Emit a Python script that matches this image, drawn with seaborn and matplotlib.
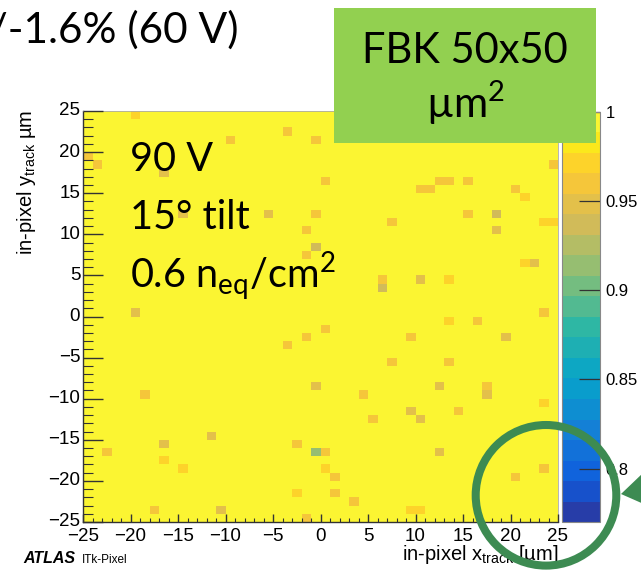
import numpy as np
import pandas as pd
import matplotlib
matplotlib.use("Agg")
import matplotlib.pyplot as plt
import seaborn as sns
from matplotlib.colors import LinearSegmentedColormap, ListedColormap, BoundaryNorm
from matplotlib.patches import Rectangle, Circle, Polygon
from matplotlib.transforms import IdentityTransform

# ---------------------------------------------------------------------------
# In-pixel efficiency map, FBK 50x50 um^2 sensor (1 um bins)
# ---------------------------------------------------------------------------
x_centres = np.arange(-24.5, 25.0, 1.0)
y_centres = np.arange(-24.5, 25.0, 1.0)
base_eff = 1.0

# bins whose efficiency falls below the top contour
dip_x = [-19.5, -3.5, -9.5, -0.5, -24.5, -23.5, -16.5, 0.5, -14.5, -5.5,
         -0.5, -1.5, -0.5, -1.5, -19.5, 24.5, 12.5, 13.5, 15.5, 10.5,
         11.5, 20.5, 21.5, 15.5, 18.5, 7.5, 23.5, 24.5, 18.5, 21.5,
         22.5, 6.5, 6.5, 10.5, 13.5, 23.5,
         13.5, 16.5, 0.5, -1.5, -3.5, 9.5, 19.5, 7.5, 13.5, -0.5,
         12.5, 17.5, 17.5, 4.5, -18.5, 23.5, 9.5, 14.5, 5.5, 10.5,
         -11.5, -16.5, -2.5, -22.5, -0.5, 0.5, 12.5, -16.5, -14.5, 0.5,
         23.5, 1.5, 20.5, -2.5, 1.5, 3.5, -17.5, -10.5, 9.5, 10.5, -1.5]
dip_y = [24.5, 22.5, 21.5, 21.5, 19.5, 18.5, 17.5, 16.5, 12.5, 12.5,
         12.5, 10.5, 8.5, 7.5, 0.5, 18.5, 16.5, 16.5, 16.5, 15.5,
         15.5, 15.5, 14.5, 12.5, 12.5, 11.5, 11.5, 11.5, 10.5, 6.5,
         6.5, 4.5, 3.5, 4.5, 4.5, 0.5,
         -0.5, -0.5, -1.5, -2.5, -3.5, -2.5, -2.5, -5.5, -5.5, -8.5,
         -8.5, -8.5, -9.5, -9.5, -9.5, -10.5, -11.5, -11.5, -12.5, -12.5,
         -14.5, -15.5, -15.5, -16.5, -16.5, -16.5, -16.5, -17.5, -18.5, -18.5,
         -18.5, -19.5, -19.5, -21.5, -21.5, -22.5, -23.5, -23.5, -23.5, -23.5, -24.5]
dip_eff = [0.972, 0.962, 0.962, 0.962, 0.962, 0.962, 0.948, 0.962, 0.948, 0.948,
           0.962, 0.962, 0.937, 0.962, 0.948, 0.962, 0.962, 0.962, 0.962, 0.962,
           0.962, 0.962, 0.972, 0.962, 0.937, 0.962, 0.972, 0.972, 0.950, 0.972,
           0.948, 0.962, 0.940, 0.948, 0.972, 0.962,
           0.972, 0.962, 0.962, 0.962, 0.962, 0.962, 0.948, 0.962, 0.962, 0.945,
           0.945, 0.962, 0.948, 0.962, 0.962, 0.972, 0.948, 0.962, 0.962, 0.948,
           0.948, 0.948, 0.962, 0.962, 0.914, 0.962, 0.948, 0.972, 0.972, 0.972,
           0.962, 0.962, 0.962, 0.972, 0.962, 0.962, 0.962, 0.948, 0.972, 0.972, 0.962]

x_tick_values = [-25, -20, -15, -10, -5, 0, 5, 10, 15, 20, 25]
y_tick_values = [-25, -20, -15, -10, -5, 0, 5, 10, 15, 20, 25]
cbar_tick_values = [0.8, 0.85, 0.9, 0.95, 1.0]
cbar_tick_labels = ["0.8", "0.85", "0.9", "0.95", "1"]
z_min, z_max, n_contours = 0.77, 1.0, 20

# ---------------------------------------------------------------------------
# ROOT "bird" palette, sampled into discrete contour bands
# ---------------------------------------------------------------------------
bird_stops = [0.0000, 0.1250, 0.2500, 0.3750, 0.5000, 0.6250, 0.7500, 0.8750, 1.0000]
bird_r = [0.2082, 0.0592, 0.0780, 0.0232, 0.1802, 0.5301, 0.8186, 0.9956, 0.9764]
bird_g = [0.1664, 0.3599, 0.5041, 0.6419, 0.7178, 0.7492, 0.7328, 0.7862, 0.9832]
bird_b = [0.5293, 0.8684, 0.8385, 0.7914, 0.6425, 0.4662, 0.3499, 0.1968, 0.0539]
bird = LinearSegmentedColormap.from_list(
    "bird", list(zip(bird_stops, zip(bird_r, bird_g, bird_b))), N=255)
band_colours = [bird((i + 0.99) / n_contours) for i in range(n_contours)]
band_colours[-1] = "#fbf532"
cmap = ListedColormap(band_colours)
levels = np.linspace(z_min, z_max, n_contours + 1)
norm = BoundaryNorm(levels, n_contours, clip=True)

# ---------------------------------------------------------------------------
# Fonts
# ---------------------------------------------------------------------------
plt.rcParams["font.family"] = ["Liberation Sans", "DejaVu Sans"]
plt.rcParams["mathtext.fontset"] = "custom"
plt.rcParams["mathtext.rm"] = "Liberation Sans"
plt.rcParams["mathtext.sf"] = "Lato"
slide_font = ["Lato", "DejaVu Sans"]

W, H = 641, 570
fig = plt.figure(figsize=(W / 100, H / 100), dpi=100)


def fx(px):
    return px / W


def fy(py):
    return 1 - py / H


ax = fig.add_axes([fx(83), fy(522), fx(558) - fx(83), fy(111) - fy(522)])
cax = fig.add_axes([fx(562), fy(522), fx(600) - fx(562), fy(112) - fy(522)])

# ---------------------------------------------------------------------------
# Efficiency grid and heatmap
# ---------------------------------------------------------------------------
eff = np.full((len(y_centres), len(x_centres)), base_eff)
for x, y, v in zip(dip_x, dip_y, dip_eff):
    eff[int(np.searchsorted(y_centres, y)), int(np.searchsorted(x_centres, x))] = v
df = pd.DataFrame(eff, index=y_centres, columns=x_centres)

sns.heatmap(df, ax=ax, cbar_ax=cax, cmap=cmap, norm=norm, cbar=True,
            xticklabels=False, yticklabels=False)
ax.set_ylim(0, len(y_centres))
ax.set_xlim(0, len(x_centres))
ax.set_axisbelow(False)

x_edge0 = x_centres[0] - 0.5
y_edge0 = y_centres[0] - 0.5


def fmt(v):
    return str(v).replace("-", "\u2212")


ax.set_xticks([v - x_edge0 for v in x_tick_values])
ax.set_xticklabels([fmt(v) for v in x_tick_values], rotation=0)
ax.set_xticks(np.arange(0, len(x_centres) + 1), minor=True)
ax.set_yticks([v - y_edge0 for v in y_tick_values])
ax.set_yticklabels([fmt(v) for v in y_tick_values], rotation=0, va="center")
ax.set_yticks(np.arange(0, len(y_centres) + 1), minor=True)

tick_col = "#333333"
ax.tick_params(axis="y", which="major", direction="in", length=14.4, width=1.0,
               color=tick_col, labelsize=13.5, pad=2)
ax.tick_params(axis="y", which="minor", direction="in", length=7.2, width=0.8,
               color=tick_col)
ax.tick_params(axis="x", which="major", direction="in", length=5.5, width=1.0,
               color=tick_col, labelsize=13.5, pad=4)
ax.tick_params(axis="x", which="minor", direction="in", length=3, width=0.8,
               color=tick_col)
ax.set_xlabel("")
ax.set_ylabel("")

for name, sp in ax.spines.items():
    sp.set_visible(True)
    if name in ("left", "bottom"):
        sp.set_color("#333333")
        sp.set_linewidth(1.0)
    else:
        sp.set_color("#aaaaaa")
        sp.set_linewidth(0.6)

# colour scale
cb = ax.collections[0].colorbar
cb.set_ticks(cbar_tick_values)
cb.set_ticklabels(cbar_tick_labels)
cb.outline.set_visible(True)
cb.outline.set_linewidth(0.8)
cb.outline.set_edgecolor("#888888")
cax.tick_params(which="major", direction="in", length=15, width=0.9,
                color=tick_col, labelsize=12, pad=4)
cax.tick_params(which="minor", length=0)

# ---------------------------------------------------------------------------
# Axis titles and labels
# ---------------------------------------------------------------------------
fig.text(fx(27), fy(110), r"in-pixel y$_{\mathrm{track}}$ µm", rotation=90,
         ha="center", va="top", fontsize=14.5)
fig.text(fx(558), fy(560), r"in-pixel x$_{\mathrm{track}}$ [µm]",
         ha="right", va="baseline", fontsize=14.5)
fig.text(fx(23), fy(563), "ATLAS", fontsize=11.5, weight="bold", style="italic")
fig.text(fx(82), fy(563), "ITk-Pixel", fontsize=8.5)

# slide annotations
fig.text(fx(238), fy(43), "+/-1.6% (60 V)", ha="right", va="baseline",
         fontsize=30.5, family=slide_font)
fig.add_artist(Rectangle((fx(334), fy(143)), fx(596) - fx(334), fy(8) - fy(143),
                         transform=fig.transFigure, facecolor="#92d050",
                         edgecolor="none", zorder=5))
fig.text(fx(465), fy(63), "FBK 50x50", ha="center", va="baseline",
         fontsize=30, family=slide_font, zorder=6)
fig.text(fx(465), fy(118), r"µm$^{\mathsf{2}}$", ha="center", va="baseline",
         fontsize=30, family=slide_font, zorder=6)

fig.text(fx(130), fy(171), "90 V", ha="left", va="baseline", fontsize=28.5,
         family=slide_font)
fig.text(fx(130), fy(229), "15° tilt", ha="left", va="baseline", fontsize=28.5,
         family=slide_font)
fig.text(fx(130), fy(288), r"0.6 n$_{\mathsf{eq}}$/cm$^{\mathsf{2}}$", ha="left",
         va="baseline", fontsize=28.5, family=slide_font)

ring_col = "#3d8b52"
fig.add_artist(Circle((546, H - 495.3), 70.3, transform=IdentityTransform(),
                      fill=False, edgecolor=ring_col, linewidth=5.8, zorder=7))
fig.add_artist(Polygon([(621, H - 494), (643, H - 473), (646, H - 505)],
                       closed=True, transform=IdentityTransform(),
                       facecolor=ring_col, edgecolor="none", zorder=7))

fig.savefig("out.png", dpi=100)
